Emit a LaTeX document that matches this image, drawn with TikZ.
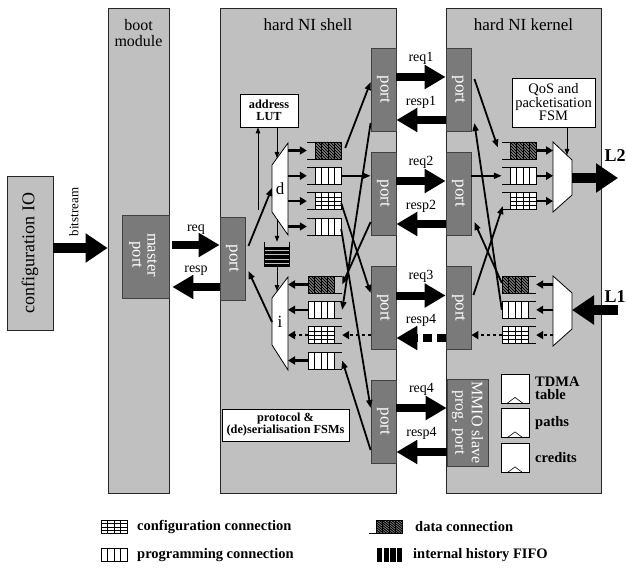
\documentclass[tikz,border=0pt]{standalone}
\usepackage{fontspec}
\setmainfont{Liberation Serif}
\usetikzlibrary{arrows.meta}

\definecolor{panelgray}{HTML}{C0C0C0}
\definecolor{portgray}{HTML}{7A7A7A}
\definecolor{hatchgray}{HTML}{8C8C8C}

\tikzset{
  panelbox/.style={draw=black!85, line width=0.8pt, fill=panelgray, inner sep=0pt},
  port/.style={draw=black!75, line width=0.8pt, fill=portgray, minimum width=25pt, inner sep=0pt},
  porttxt/.style={rotate=-90, text=white, inner sep=0pt, align=center, font=\fontsize{17}{16}\selectfont},
  whitebox/.style={draw=black, line width=0.8pt, fill=white, inner sep=0pt, align=center},
  fifobox/.style={minimum width=34pt, minimum height=17pt, inner sep=0pt},
  fifoline/.style={line width=0.9pt},
  cellline/.style={line width=0.6pt},
  hatchline/.style={line width=1pt},
  muxshape/.style={draw=black, line width=0.8pt, fill=white},
  bigarrow/.style={line width=8pt, -{Triangle[length=21pt,width=23pt]}},
  fatarrow/.style={line width=10pt, -{Triangle[length=22pt,width=28pt]}},
  link/.style={line width=1.8pt, -{Triangle[length=8pt,width=6pt]}},
  dotlink/.style={line width=2.5pt, dash pattern=on 3pt off 3pt, -{Triangle[length=7pt,width=8pt]}},
  muxarrow/.style={line width=2.5pt, -{Triangle[length=7pt,width=8pt]}},
  ctrl/.style={line width=0.8pt, -{Triangle[length=6pt,width=4.5pt]}},
  lbl/.style={inner sep=0pt, font=\fontsize{14}{14}\selectfont},
  paneltitle/.style={inner sep=0pt, align=center, font=\fontsize{17}{14.5}\selectfont},
  smallbold/.style={font=\fontsize{12.3}{12}\selectfont\bfseries},
  legtxt/.style={inner sep=0pt, anchor=west, align=left, font=\fontsize{14.5}{13.5}\selectfont\bfseries},
}

% buffer cells, 26 x 17, four slots
\newcommand{\cellsprog}[2]{%
  \draw[cellline,fill=white] (#1,#2) rectangle ++(26,17);
  \foreach \k in {1,2,3} \draw[cellline] (#1+6.5*\k,#2) -- ++(0,17);}
\newcommand{\cellsconf}[2]{%
  \draw[cellline,fill=white] (#1,#2) rectangle ++(26,17);
  \foreach \k in {1,2,3} {\draw[cellline] (#1+6.5*\k,#2) -- ++(0,17);
    \draw[cellline] (#1,#2+4.25*\k) -- ++(26,0);}}
\newcommand{\cellsdata}[2]{%
  \begin{scope}
    \clip (#1,#2) rectangle ++(26,17);
    \fill[hatchgray] (#1,#2) rectangle ++(26,17);
    \foreach \k in {0,...,15} \draw[hatchline] (#1-18+3*\k,#2) -- ++(17,17);
  \end{scope}
  \foreach \k in {1,2,3} \draw[cellline] (#1+6.5*\k,#2) -- ++(0,17);
  \draw[cellline] (#1,#2) rectangle ++(26,17);}

% FIFO open on the left, cells at the right end
\newcommand{\fifoOut}[4]{%
  \node[fifobox] (#1) at (#2+17,#3+8.5) {};
  \draw[fifoline] (#2,#3) -- ++(34,0) (#2,#3+17) -- ++(34,0);
  \csname cells#4\endcsname{#2+8}{#3}}
% FIFO with cells at the left end, open on the right
\newcommand{\fifoIn}[4]{%
  \node[fifobox] (#1) at (#2+17,#3+8.5) {};
  \draw[fifoline] (#2,#3) -- ++(34,0) (#2,#3+17) -- ++(34,0);
  \csname cells#4\endcsname{#2}{#3}}

\begin{document}
\begin{tikzpicture}[x=1pt,y=-1pt]
\useasboundingbox (0,0) rectangle (626,569);

% ---- panels
\node[panelbox, minimum width=46pt, minimum height=154pt] (cfg) at (30,253) {};
\node[panelbox, minimum width=61pt, minimum height=485pt] (boot) at (138.5,250.5) {};
\node[panelbox, minimum width=176pt, minimum height=485pt] (shell) at (308,250.5) {};
\node[panelbox, minimum width=155pt, minimum height=485pt] (kernel) at (523.5,250.5) {};

\node[paneltitle, rotate=90, font=\fontsize{18}{18}\selectfont] (cfgtxt) at (cfg) {configuration IO};
\node[paneltitle, font=\fontsize{16}{16}\selectfont] (boottxt) at (138.5,33) {boot\\module};
\node[paneltitle] (shelltxt) at (308,25) {hard NI shell};
\node[paneltitle] (kerneltxt) at (523.5,25) {hard NI kernel};

% ---- ports
\node[port, minimum width=47pt, minimum height=83pt] (master) at (145.5,256.5) {};
\node[porttxt, font=\fontsize{16.5}{15}\selectfont] (mastertxt) at (143,255) {master\\port};
\node[port, minimum height=83pt] (pL) at (232.5,258.5) {};
\node[porttxt] (pLtxt) at (pL) {port};
\foreach \n/\y in {p1/89.5, p2/193.5, p3/308, p4/421.5} {
  \node[port, minimum height=83pt] (\n) at (383.5,\y) {};
  \node[porttxt] (\n-txt) at (\n) {port};
}
\foreach \n/\y in {k1/89.5, k2/193.5, k3/308} {
  \node[port, minimum height=83pt] (\n) at (458.5,\y) {};
  \node[porttxt] (\n-txt) at (\n) {port};
}
\node[port, minimum width=41pt, minimum height=87pt] (mmio) at (467.5,422.5) {};
\node[porttxt, font=\fontsize{16}{16.5}\selectfont] (mmiotxt) at (mmio) {MMIO slave\\prog. port};

% ---- control boxes
\node[whitebox, minimum width=58pt, minimum height=33pt, smallbold] (lut) at (269,110.5) {address\\LUT};
\node[whitebox, minimum width=127pt, minimum height=32pt, smallbold] (proto) at (285.5,425) {protocol \&\\(de)serialisation FSMs};
\node[whitebox, minimum width=83pt, minimum height=49pt, font=\fontsize{14.5}{13.5}\selectfont] (qos) at (553.5,102.5) {QoS and\\packetisation\\FSM};

% ---- shell buffers
\fifoOut{d1}{307}{142}{data}
\fifoOut{d2}{307}{167.3}{prog}
\fifoOut{d3}{307}{192.6}{conf}
\fifoOut{d4}{307}{218}{prog}
\fifoIn{i1}{308}{276}{data}
\fifoIn{i2}{308}{301.3}{prog}
\fifoIn{i3}{308}{326.6}{conf}
\fifoIn{i4}{308}{352}{prog}

% ---- kernel buffers
\fifoOut{t1}{502}{142}{data}
\fifoOut{t2}{502}{167.3}{prog}
\fifoOut{t3}{502}{192.6}{conf}
\fifoIn{b1}{502}{276}{data}
\fifoIn{b2}{502}{301.3}{prog}
\fifoIn{b3}{502}{326.6}{conf}

% ---- history FIFO
\node[minimum width=25pt, minimum height=25pt, inner sep=0pt] (hist) at (277,254.5) {};
\draw[fifoline] (264.5,242) -- (264.5,267) (289.5,242) -- (289.5,267);
\foreach \k in {0,...,4} \fill (264.5,247+4.2*\k) rectangle ++(25,3.2);

% ---- (de)multiplexers
\draw[muxshape] (272,165) -- (288,143) -- (288,235) -- (272,212) -- cycle;
\node[inner sep=0pt, font=\fontsize{17}{17}\selectfont] (dlab) at (280,189) {d};
\coordinate (dIn) at (272,188);
\coordinate (dR) at (288,189);
\coordinate (dTop) at (277,158);
\coordinate (dBot) at (277,219);

\draw[muxshape] (272,298) -- (288,277) -- (288,370) -- (272,345) -- cycle;
\node[inner sep=0pt, font=\fontsize{17}{17}\selectfont] (ilab) at (280,322) {i};
\coordinate (iOut) at (272,322);
\coordinate (iR) at (288,322);
\coordinate (iTop) at (277,291);

\draw[muxshape] (553,142) -- (572,160) -- (572,195) -- (553,212) -- cycle;
\coordinate (kmL) at (553,178);
\coordinate (kmOut) at (572,178);
\coordinate (kmTop) at (567,155);

\draw[muxshape] (553,276) -- (572,293) -- (572,329) -- (553,346) -- cycle;
\coordinate (kdL) at (553,310);
\coordinate (kdIn) at (572,310);

% ---- mux <-> buffer arrows
\foreach \r in {d1,d2,d3,d4} \draw[muxarrow] (\r.west -| dR) -- (\r.west);
\foreach \r in {i1,i2,i4} \draw[muxarrow] (\r.west) -- (\r.west -| iR);
\draw[dotlink] (i3.west) -- (i3.west -| iR);
\foreach \r in {t1,t2,t3} \draw[muxarrow] (\r.east) -- (\r.east -| kmL);
\foreach \r in {b1,b2} \draw[muxarrow] (\r.east -| kdL) -- (\r.east);
\draw[dotlink] (b3.east -| kdL) -- (b3.east);

% ---- control lines
\coordinate (lutTap) at (258,210);
\draw[ctrl] (lutTap) -- (lutTap |- lut.south);
\draw[ctrl] (lut.south -| dTop) -- (dTop);
\draw[ctrl] (dBot) -- (hist.north);
\draw[ctrl] (hist.south) -- (iTop);
\draw[ctrl] (qos.south -| kmTop) -- (kmTop);

% ---- shell connections
\draw[link] ([xshift=3pt,yshift=12.5pt]pL.east) -- (dIn);
\draw[link] (iOut) -- ([xshift=3pt,yshift=-12.5pt]pL.east);
\draw[link] ([xshift=4pt,yshift=2.5pt]d1.east) -- ([yshift=7.5pt]p1.west);
\draw[link] (d2.east) -- (d2.east -| p2.west);
\draw[link] ([yshift=-2pt]d3.east) -- ([yshift=15pt]p3.west);
\draw[link] ([yshift=-2.5pt]d4.east) -- ([yshift=13.5pt]p4.west);
\draw[link] ([yshift=-33.5pt]p1.west) -- (i2.east);
\draw[link] ([yshift=-28.5pt]p2.west) -- (i1.east);
\draw[dotlink] (i3.east -| p3.west) -- (i3.east);
\draw[link] ([yshift=-28.5pt]p4.west) -- (i4.east);

% ---- kernel connections
\draw[link] ([xshift=3pt,yshift=10.5pt]k1.east) -- ([xshift=-4pt,yshift=3pt]t1.west);
\draw[link] (t2.west -| k2.east) -- (t2.west);
\draw[link] ([xshift=2pt,yshift=13pt]k3.east) -- ([xshift=1pt,yshift=-5pt]t3.west);
\draw[link] ([yshift=1.5pt]b1.west) -- ([xshift=3pt,yshift=-28.5pt]k2.east);
\draw[link] (b2.west) -- ([xshift=3pt,yshift=-33.5pt]k1.east);
\draw[dotlink] (b3.west) -- (b3.west -| k3.east);

% ---- wide links
\draw[fatarrow] ([yshift=5pt]cfg.east) -- ([yshift=5pt]cfg.east -| boot.west);
\node[lbl, rotate=90, font=\fontsize{13}{13}\selectfont] (bitlbl) at (74,212) {bitstream};

\draw[bigarrow] ([xshift=3pt,yshift=11.5pt]master.east) -- ([yshift=11.5pt]master.east -| pL.west)
  node[lbl, midway, yshift=15pt] (lreq) {req};
\draw[bigarrow] ([yshift=-30.5pt]master.east -| pL.west) -- ([xshift=3pt,yshift=-30.5pt]master.east)
  node[lbl, midway, yshift=16pt] (lresp) {resp};

\foreach \a/\b/\t in {p1/k1/1, p2/k2/2, p3/k3/3}
  \draw[bigarrow] ([yshift=12.5pt]\a.east) -- ([yshift=12.5pt]\b.west)
    node[lbl, midway, yshift=19pt] (lreq\t) {req\t};
\draw[bigarrow] ([yshift=-30.5pt]k1.west) -- ([yshift=-30.5pt]p1.east)
  node[lbl, midway, yshift=18pt] (lresp1) {resp1};
\draw[bigarrow] ([yshift=-30.5pt]k2.west) -- ([yshift=-30.5pt]p2.east)
  node[lbl, midway, yshift=18pt] (lresp2) {resp2};
\draw[bigarrow, dash pattern=on 9pt off 5pt] ([yshift=-30pt]k3.west) -- ([yshift=-30pt]p3.east)
  node[lbl, midway, yshift=18pt] (lresp3) {resp4};
\draw[bigarrow] ([yshift=13.5pt]p4.east) -- ([yshift=13.5pt]p4.east -| mmio.west)
  node[lbl, midway, yshift=19pt] (lreq4) {req4};
\draw[bigarrow] ([yshift=-30.5pt]p4.east -| mmio.west) -- ([yshift=-30.5pt]p4.east)
  node[lbl, midway, yshift=19pt] (lresp4) {resp4};

\coordinate (L2end) at (618,178);
\coordinate (L1start) at (618,310);
\draw[fatarrow] (kmOut) -- (L2end);
\draw[fatarrow] (L1start) -- (kdIn);
\node[inner sep=0pt, font=\fontsize{18}{18}\selectfont\bfseries] (L2lab) at (615,156) {L2};
\node[inner sep=0pt, font=\fontsize{18}{18}\selectfont\bfseries] (L1lab) at (615,297) {L1};

% ---- kernel tables
\foreach \n/\y in {tdma/388.5, paths/423, credits/458} {
  \node[draw, line width=0.8pt, fill=white, minimum width=28pt, minimum height=29pt, inner sep=0pt] (\n) at (515,\y) {};
  \draw[line width=0.6pt] ([xshift=-8pt]\n.south) -- ([yshift=6pt]\n.south) -- ([xshift=8pt]\n.south);
}
\node[legtxt] (tdmatxt) at (535,388.5) {TDMA\\table};
\node[legtxt] (pathstxt) at (535,423) {paths};
\node[legtxt] (creditstxt) at (535,458) {credits};

% ---- legend
\begin{scope}[shift={(101,520)}, yscale=0.8]
  \cellsconf{0}{0}
\end{scope}
\begin{scope}[shift={(101,548)}, yscale=0.8]
  \cellsprog{0}{0}
\end{scope}
\begin{scope}[shift={(376,520)}, yscale=0.8]
  \cellsdata{0}{0}
  \draw[fifoline] (-7,17) -- (0,17);
\end{scope}
\foreach \k in {0,...,3} \fill (377+6.7*\k,548) rectangle ++(5.2,14);

\node[legtxt] (lgconf) at (137,527) {configuration connection};
\node[legtxt] (lgprog) at (137,555) {programming connection};
\node[legtxt] (lgdata) at (415,527) {data connection};
\node[legtxt] (lghist) at (413,555) {internal history FIFO};
\end{tikzpicture}
\end{document}
